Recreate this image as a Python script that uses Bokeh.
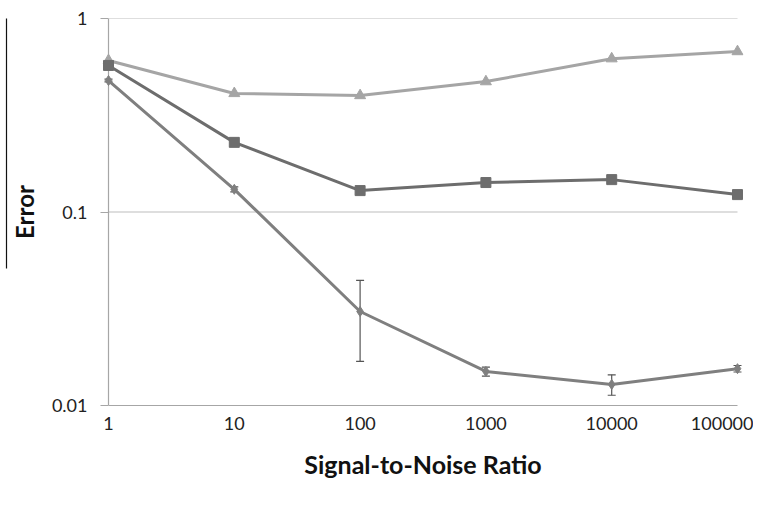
from bokeh.plotting import figure
from bokeh.models import (FixedTicker, Range1d, LinearAxis, Whisker, ColumnDataSource,
                          Legend, LegendItem, TeeHead, LinearScale)
from bokeh.embed import file_html
from bokeh.resources import INLINE

snr = [1, 10, 100, 1000, 10000, 100000]
snr_labels = ["1", "10", "100", "1000", "10000", "100000"]
nn = [0.478, 0.131, 0.0306, 0.0150, 0.01285, 0.0155]
nn_lo = [0.470, 0.127, 0.0169, 0.0142, 0.0113, 0.0149]
nn_hi = [0.486, 0.135, 0.0443, 0.0158, 0.0144, 0.0161]
tisean = [0.607, 0.410, 0.400, 0.472, 0.620, 0.675]
tisean_rm = [0.572, 0.229, 0.129, 0.142, 0.147, 0.123]
y_ticks = [0.01, 0.1, 1]
y_labels = ["0.01", "0.1", "1"]

FONT = "Lato"
C_NN = "#7f7f7f"
C_T = "#a5a5a5"
C_TR = "#6d6d6d"
AX = "#a6a6a6"

pad = 0.0477
p = figure(frame_width=641, frame_height=387, x_axis_type="log", y_axis_type="log",
           x_range=Range1d(10 ** (-pad), 10 ** (5 + pad)), y_range=Range1d(0.01, 1),
           output_backend="svg", toolbar_location=None,
           min_border_top=18, min_border_right=10, min_border_left=102, min_border_bottom=0)
p.outline_line_color = None
p.xgrid.visible = False
p.ygrid.visible = False

# grid lines
p.segment(x0=[snr[0]] * 2, x1=[snr[-1]] * 2, y0=y_ticks[1:], y1=y_ticks[1:],
          line_color="#bdbdbd", line_width=1.2)
# y axis line at x=1
p.segment(x0=[snr[0]], x1=[snr[0]], y0=[y_ticks[0]], y1=[y_ticks[-1]],
          line_color=AX, line_width=1.2)

# x axis
xa = p.xaxis[0]
xa.ticker = FixedTicker(ticks=snr)
xa.major_label_overrides = {float(v): l for v, l in zip(snr, snr_labels)}
xa.bounds = (snr[0], snr[-1])
xa.axis_line_color = AX
xa.axis_line_width = 1.2
xa.major_tick_line_color = None
xa.minor_tick_line_color = None
xa.major_label_text_font = FONT
xa.major_label_text_font_size = "18px"
xa.major_label_text_color = "#222222"
xa.major_label_standoff = 5
xa.axis_label = "Signal-to-Noise Ratio"
xa.axis_label_text_font = FONT
xa.axis_label_text_font_style = "bold"
xa.axis_label_text_font_size = "25px"
xa.axis_label_text_color = "#111111"
xa.axis_label_standoff = 16

# y axis
ya = p.yaxis[0]
ya.ticker = FixedTicker(ticks=y_ticks)
ya.major_label_overrides = {float(v): l for v, l in zip(y_ticks, y_labels)}
ya.axis_line_color = None
ya.major_tick_line_color = AX
ya.major_tick_line_width = 1.2
ya.major_tick_in = 6
ya.major_tick_out = 2
ya.minor_tick_line_color = None
ya.major_label_text_font = FONT
ya.major_label_text_font_size = "18px"
ya.major_label_text_color = "#222222"
ya.major_label_standoff = 13
ya.axis_label = "Error"
ya.axis_label_text_font = FONT
ya.axis_label_text_font_style = "bold"
ya.axis_label_text_font_size = "24px"
ya.axis_label_text_color = "#111111"
ya.axis_label_text_line_height = 0.6
ya.axis_label_standoff = 10

# decorative line beside the axis title
p.extra_y_ranges = {"deco": Range1d(0, 1)}
p.extra_y_scales = {"deco": LinearScale()}
da = LinearAxis(y_range_name="deco", ticker=FixedTicker(ticks=[]), bounds=(0.354, 1.0),
                axis_line_color="#111111", axis_line_width=1.2,
                major_tick_line_color=None, minor_tick_line_color=None,
                major_tick_out=0, major_tick_in=0,
                major_label_text_font_size="0px")
p.add_layout(da, "left")

src = ColumnDataSource(dict(x=snr, nn=nn, lo=nn_lo, hi=nn_hi, t=tisean, tr=tisean_rm))

w = Whisker(source=src, base="x", lower="lo", upper="hi", line_color="#555555", line_width=1.2,
            upper_head=TeeHead(size=8, line_color="#555555", line_width=1.2),
            lower_head=TeeHead(size=8, line_color="#555555", line_width=1.2))
p.add_layout(w)

l1 = p.line("x", "nn", source=src, line_color=C_NN, line_width=3)
m1 = p.scatter("x", "nn", source=src, marker="diamond", size=10, color=C_NN)
l2 = p.line("x", "t", source=src, line_color=C_T, line_width=3)
m2 = p.scatter("x", "t", source=src, marker="triangle", size=11, color=C_T)
l3 = p.line("x", "tr", source=src, line_color=C_TR, line_width=3)
m3 = p.scatter("x", "tr", source=src, marker="square", size=10, color=C_TR)

legend = Legend(items=[LegendItem(label="Neural Network", renderers=[l1, m1]),
                       LegendItem(label="TISEAN", renderers=[l2, m2]),
                       LegendItem(label="TISEAN (spurious LEs removed)", renderers=[l3, m3])],
                orientation="horizontal", location="top_left", nrows=1,
                label_text_font=FONT, label_text_font_size="20px", label_text_color="#222222",
                glyph_width=25, glyph_height=20, label_standoff=2, spacing=32,
                border_line_color=None, background_fill_alpha=0,
                padding=0, margin=8)
p.add_layout(legend, "below")

open("out.html", "w").write(file_html(p, INLINE))
